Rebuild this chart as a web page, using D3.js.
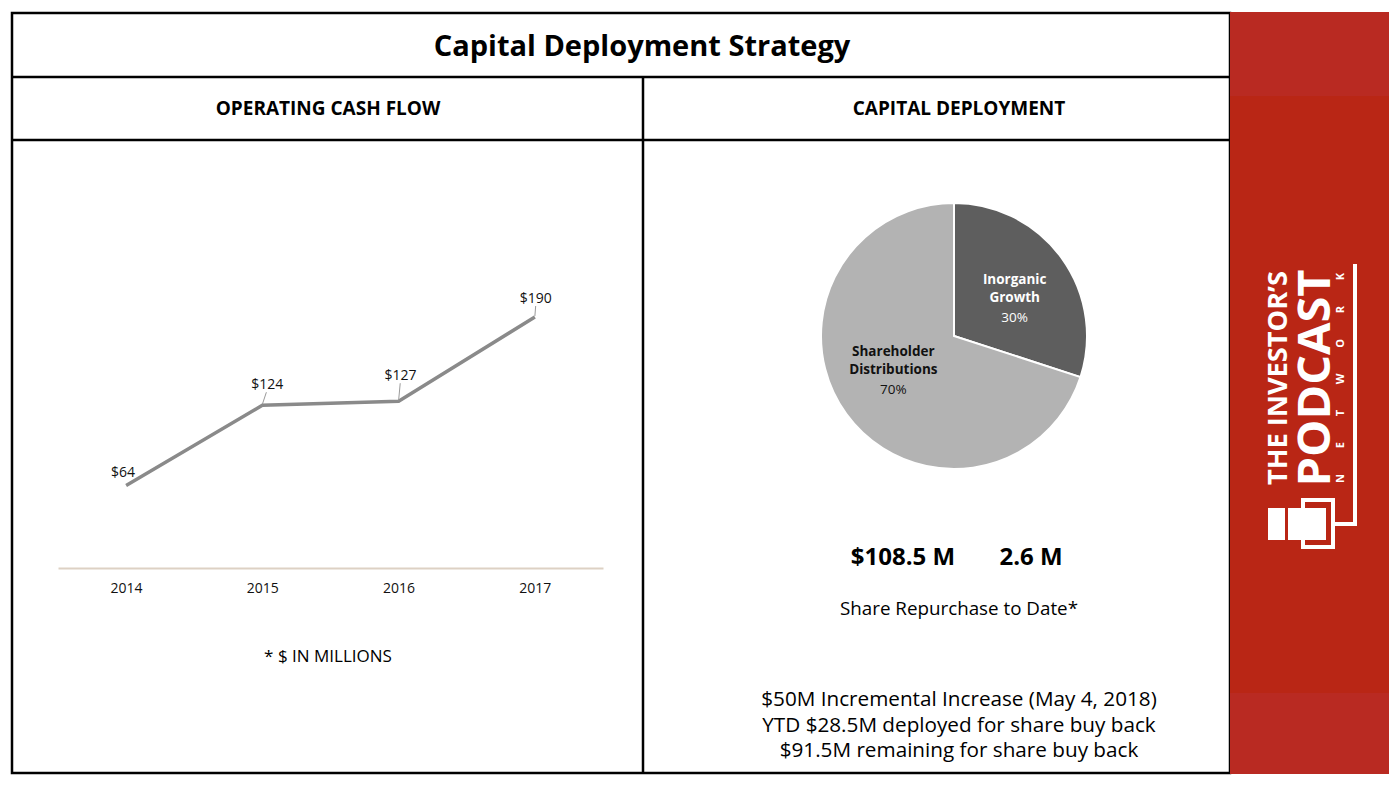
<!DOCTYPE html>
<html>
<head>
<meta charset="utf-8">
<script src="https://cdn.jsdelivr.net/npm/d3@7"></script>
<style>
  body { margin: 0; background: #fff; }
  svg { display: block; font-family: "Open Sans", sans-serif; }
</style>
</head>
<body>
<div id="slide"></div>
<script>
// operating cash flow, $ millions
const years = ["2014", "2015", "2016", "2017"];
const cashFlow = [64, 124, 127, 190];

// capital deployment split
const deployNames = [["Inorganic", "Growth"], ["Shareholder", "Distributions"]];
const deployShare = [30, 70];

const buybackFigures = ["$108.5 M", "2.6 M"];
const buybackNotes = [
  "$50M Incremental Increase (May 4, 2018)",
  "YTD $28.5M deployed for share buy back",
  "$91.5M remaining for share buy back"
];

function initSlide(selector) {
  const width = 1396, height = 788;
  const svg = d3.select(selector).append("svg")
    .attr("width", width)
    .attr("height", height);

  // frame
  const frame = {left: 12, right: 1230, top: 13, bottom: 773, row1: 77, row2: 140, split: 643};
  const grid = svg.append("g")
    .attr("stroke", "#000")
    .attr("stroke-width", 2.5)
    .attr("fill", "none");
  grid.append("rect")
    .attr("x", frame.left).attr("y", frame.top)
    .attr("width", frame.right - frame.left)
    .attr("height", frame.bottom - frame.top);
  [frame.row1, frame.row2].forEach(y => {
    grid.append("line").attr("x1", frame.left).attr("x2", frame.right)
      .attr("y1", y).attr("y2", y);
  });
  grid.append("line").attr("x1", frame.split).attr("x2", frame.split)
    .attr("y1", frame.row1).attr("y2", frame.bottom);

  svg.append("text")
    .attr("x", 642).attr("y", 56)
    .attr("text-anchor", "middle")
    .style("font-size", "29px").style("font-weight", 700)
    .text("Capital Deployment Strategy");

  svg.append("text")
    .attr("x", 328).attr("y", 115)
    .attr("text-anchor", "middle")
    .style("font-size", "19px").style("font-weight", 700)
    .text("OPERATING CASH FLOW");
  svg.append("text")
    .attr("x", 959).attr("y", 115)
    .attr("text-anchor", "middle")
    .style("font-size", "19px").style("font-weight", 700)
    .text("CAPITAL DEPLOYMENT");

  // line chart
  const xScale = d3.scalePoint()
    .domain(years)
    .range([58, 603])
    .padding(0.5);
  const yScale = d3.scaleLinear()
    .domain([0, d3.max(cashFlow)])
    .range([571, 317]);

  const points = years.map((y, i) => ({year: y, value: cashFlow[i]}));

  const xAxis = svg.append("g")
    .attr("transform", "translate(0, 568)")
    .call(d3.axisBottom(xScale).tickSize(0).tickPadding(15));
  xAxis.select(".domain").attr("stroke", "#ddd1c4").attr("stroke-width", 2);
  xAxis.selectAll("text")
    .style("font-family", "\"Open Sans\", sans-serif")
    .style("font-size", "14px").attr("fill", "#111");

  const line = d3.line()
    .x(d => xScale(d.year))
    .y(d => yScale(d.value));
  svg.append("path")
    .datum(points)
    .attr("fill", "none")
    .attr("stroke", "#8a8a8a")
    .attr("stroke-width", 3.5)
    .attr("d", line);

  // label offsets from the point (layout only)
  const labelShift = [[-3, -8], [5, -16], [2, -21], [1, -14]];
  points.forEach((d, i) => {
    const px = xScale(d.year), py = yScale(d.value);
    const [dx, dy] = labelShift[i];
    if (i > 0) {
      svg.append("line")
        .attr("x1", px).attr("y1", py - 1)
        .attr("x2", px + dx * 0.8).attr("y2", py + dy + 3)
        .attr("stroke", "#9a9a9a").attr("stroke-width", 1);
    }
    svg.append("text")
      .attr("x", px + dx).attr("y", py + dy)
      .attr("text-anchor", "middle")
      .style("font-size", "14px").attr("fill", "#111")
      .text("$" + d.value);
  });

  svg.append("text")
    .attr("x", 328).attr("y", 662)
    .attr("text-anchor", "middle")
    .style("font-size", "17px")
    .text("* $ IN MILLIONS");

  // pie
  const pieCenter = [954, 336], radius = 133;
  const pie = d3.pie().sort(null).value(d => d);
  const arc = d3.arc().innerRadius(0).outerRadius(radius);
  const labelArc = d3.arc().innerRadius(75).outerRadius(75);
  const sliceColors = ["#5e5e5e", "#b3b3b3"];
  const sliceText = ["#fff", "#111"];
  const labelNudge = [5, -11];

  const pieG = svg.append("g")
    .attr("transform", `translate(${pieCenter[0]}, ${pieCenter[1]})`);
  const slices = pie(deployShare);
  pieG.selectAll("path")
    .data(slices)
    .join("path")
    .attr("d", arc)
    .attr("fill", (d, i) => sliceColors[i])
    .attr("stroke", "#fff")
    .attr("stroke-width", 2);

  slices.forEach((s, i) => {
    const [cx, cy] = labelArc.centroid(s);
    const t = pieG.append("text")
      .attr("text-anchor", "middle")
      .attr("fill", sliceText[i])
      .style("font-size", "13.5px");
    deployNames[i].forEach((name, j) => {
      t.append("tspan")
        .attr("x", cx).attr("y", cy + labelNudge[i] - 13 + j * 18)
        .style("font-weight", 700)
        .text(name);
    });
    t.append("tspan")
      .attr("x", cx).attr("y", cy + labelNudge[i] - 13 + 38)
      .text(s.data + "%");
  });

  // buyback text
  const figX = [903, 1031];
  buybackFigures.forEach((f, i) => {
    svg.append("text")
      .attr("x", figX[i]).attr("y", 565)
      .attr("text-anchor", "middle")
      .style("font-size", "24px").style("font-weight", 700)
      .text(f);
  });
  svg.append("text")
    .attr("x", 959).attr("y", 615)
    .attr("text-anchor", "middle")
    .style("font-size", "18.8px")
    .text("Share Repurchase to Date*");
  buybackNotes.forEach((n, i) => {
    svg.append("text")
      .attr("x", 959).attr("y", 706 + i * 25.5)
      .attr("text-anchor", "middle")
      .style("font-size", "20.7px")
      .text(n);
  });

  // red side panel
  const panel = svg.append("g");
  panel.append("rect")
    .attr("x", 1230).attr("y", 12).attr("width", 159).attr("height", 762)
    .attr("fill", "#b92a22");
  panel.append("rect")
    .attr("x", 1230).attr("y", 96).attr("width", 159).attr("height", 597)
    .attr("fill", "#b92615");

  panel.append("text")
    .attr("transform", "translate(1287, 378) rotate(-90)")
    .attr("text-anchor", "middle")
    .attr("fill", "#fff")
    .attr("textLength", 214).attr("lengthAdjust", "spacingAndGlyphs")
    .style("font-size", "26px").style("font-weight", 700)
    .text("THE INVESTOR\u2019S");
  panel.append("text")
    .attr("transform", "translate(1330, 378) rotate(-90)")
    .attr("text-anchor", "middle")
    .attr("fill", "#fff")
    .attr("textLength", 217).attr("lengthAdjust", "spacingAndGlyphs")
    .style("font-size", "45px").style("font-weight", 700)
    .text("PODCAST");
  panel.append("text")
    .attr("transform", "translate(1344, 378) rotate(-90)")
    .attr("text-anchor", "middle")
    .attr("fill", "#fff")
    .attr("textLength", 210).attr("lengthAdjust", "spacing")
    .style("font-size", "11px").style("font-weight", 700)
    .text("NETWORK");

  const icon = panel.append("g").attr("fill", "none").attr("stroke", "#fff").attr("stroke-width", 4);
  icon.append("path").attr("d", "M1303,508 V500 H1333 V547 H1303 V540");
  icon.append("path").attr("d", "M1333,524 H1355 V264");
  panel.append("rect").attr("x", 1268).attr("y", 508).attr("width", 17).attr("height", 32).attr("fill", "#fff");
  panel.append("rect").attr("x", 1288).attr("y", 508).attr("width", 38).attr("height", 32).attr("fill", "#fff");
}

document.addEventListener("DOMContentLoaded", function () {
  initSlide("#slide");
});
</script>
</body>
</html>
